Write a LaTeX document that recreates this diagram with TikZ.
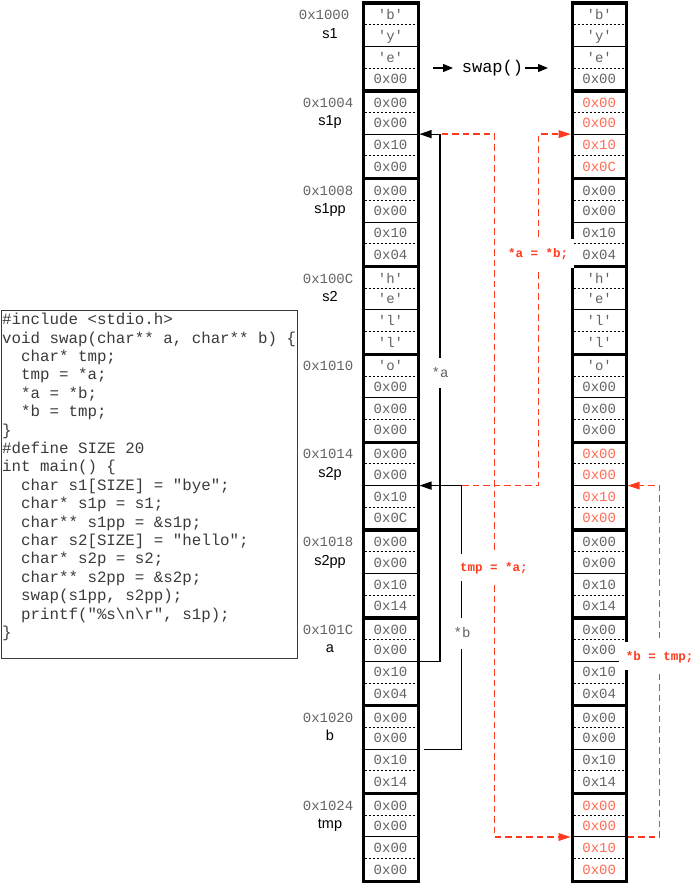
\documentclass[tikz,border=0pt]{standalone}
\usepackage{fontspec}
\setmainfont{Liberation Sans}
\setmonofont{Liberation Mono}
\usetikzlibrary{arrows.meta}
\definecolor{txtgray}{HTML}{626262}
\definecolor{codegray}{HTML}{3A3A3A}
\definecolor{redline}{HTML}{FF3B1F}
\definecolor{redtext}{HTML}{FF6A52}
\tikzset{
  cell/.style={font=\ttfamily\fontsize{14}{14}\selectfont, inner sep=0pt, anchor=base},
  addr/.style={font=\ttfamily\fontsize{14}{14}\selectfont, text=txtgray, inner sep=0pt, anchor=base east},
  varname/.style={font=\fontsize{14.5}{14.5}\selectfont, text=black, inner sep=0pt, anchor=base},
  codeline/.style={font=\ttfamily\fontsize{15.8}{15.8}\selectfont, text=codegray, inner sep=0pt, anchor=base west},
  thickbar/.style={line width=3.3pt},
  colborder/.style={line width=3pt},
  bytesep/.style={dashed, dash pattern=on 2.5pt off 1.5pt, line width=0.8pt},
  pairsep/.style={line width=1pt},
  blkarrow/.style={line width=1.1pt, -{Triangle[length=12pt,width=8pt]}},
  redarrow/.style={line width=1.3pt, draw=redline, dash pattern=on 6.5pt off 4pt, -{Triangle[length=12pt,width=8pt,fill=redline,line width=0pt]}},
  ptrlabel/.style={font=\ttfamily\fontsize{14}{14}\selectfont, text=txtgray, fill=white, inner xsep=2pt, inner ysep=0pt, text height=8pt, text depth=0pt},
  redlabel/.style={font=\ttfamily\bfseries\fontsize{12.5}{12.5}\selectfont, text=redline, fill=white, inner xsep=6pt, inner ysep=0pt, text height=8pt, text depth=0pt}
}
\begin{document}
\begin{tikzpicture}[x=1pt,y=-1pt]
\useasboundingbox (0,0) rectangle (700,884);

% ---------- memory columns ----------
\foreach \xl/\xr in {363/418, 572.2/626.2}{
  \foreach \k in {0,...,9}{
    \pgfmathsetmacro\T{3+87.85*\k}
    \draw[bytesep] (\xl+1.5,\T+21.5) -- (\xr-1.5,\T+21.5);
    \draw[bytesep] (\xl+1.5,\T+65) -- (\xr-1.5,\T+65);
    \draw[pairsep] (\xl+1.5,\T+43.3) -- (\xr-1.5,\T+43.3);
  }
  \foreach \k in {0,...,10}{
    \pgfmathsetmacro\T{3+87.85*\k}
    \draw[thickbar] (\xl-1.5,\T) -- (\xr+1.5,\T);
  }
  \draw[colborder] (\xl,1.35) -- (\xl,883.15);
  \draw[colborder] (\xr,1.35) -- (\xr,883.15);
}

% left column contents
\foreach \k/\a/\b/\c/\d in {0/'b'/'y'/'e'/0x00, 1/0x00/0x00/0x10/0x00, 2/0x00/0x00/0x10/0x04, 3/'h'/'e'/'l'/'l', 4/'o'/0x00/0x00/0x00, 5/0x00/0x00/0x10/0x0C, 6/0x00/0x00/0x10/0x14, 7/0x00/0x00/0x10/0x04, 8/0x00/0x00/0x10/0x14, 9/0x00/0x00/0x00/0x00}{
  \pgfmathsetmacro\T{3+87.85*\k}
  \node[cell, text=txtgray] (L\k-0) at (390.5,\T+12+4.5) {\a};
  \node[cell, text=txtgray] (L\k-1) at (390.5,\T+32.5+4.5) {\b};
  \node[cell, text=txtgray] (L\k-2) at (390.5,\T+54.5+4.5) {\c};
  \node[cell, text=txtgray] (L\k-3) at (390.5,\T+76+4.5) {\d};
}
% right column contents
\foreach \k/\col/\a/\b/\c/\d in {0/txtgray/'b'/'y'/'e'/0x00, 1/redtext/0x00/0x00/0x10/0x0C, 2/txtgray/0x00/0x00/0x10/0x04, 3/txtgray/'h'/'e'/'l'/'l', 4/txtgray/'o'/0x00/0x00/0x00, 5/redtext/0x00/0x00/0x10/0x00, 6/txtgray/0x00/0x00/0x10/0x14, 7/txtgray/0x00/0x00/0x10/0x04, 8/txtgray/0x00/0x00/0x10/0x14, 9/redtext/0x00/0x00/0x10/0x00}{
  \pgfmathsetmacro\T{3+87.85*\k}
  \node[cell, text=\col] (R\k-0) at (599.2,\T+12+4.5) {\a};
  \node[cell, text=\col] (R\k-1) at (599.2,\T+32.5+4.5) {\b};
  \node[cell, text=\col] (R\k-2) at (599.2,\T+54.5+4.5) {\c};
  \node[cell, text=\col] (R\k-3) at (599.2,\T+76+4.5) {\d};
}

% addresses and names
\node[addr] (ad0) at (349.5,3+12+4.5) {0x1000};
\foreach \k/\ad in {1/0x1004, 2/0x1008, 3/0x100C, 4/0x1010, 5/0x1014, 6/0x1018, 7/0x101C, 8/0x1020, 9/0x1024}{
  \pgfmathsetmacro\T{3+87.85*\k}
  \node[addr] (ad\k) at (353.5,\T+12+4.5) {\ad};
}
\foreach \k/\nm in {0/s1, 1/s1p, 2/s1pp, 3/s2, 5/s2p, 6/s2pp, 7/a, 8/b, 9/tmp}{
  \pgfmathsetmacro\T{3+87.85*\k}
  \node[varname] (nm\k) at (330,\T+30+5) {\nm};
}

% swap() header
\node[font=\ttfamily\fontsize{17}{17}\selectfont, inner sep=0pt, text height=9pt, text depth=0pt] (sw) at (492.5,68) {swap()};
\coordinate (swa) at (433,68);
\coordinate (swb) at (453,68);
\coordinate (swc) at (525,68);
\coordinate (swd) at (548,68);
\draw[line width=1.1pt, -{Triangle[length=10pt,width=8pt]}] (swa) -- (swb);
\draw[line width=1.1pt, -{Triangle[length=10pt,width=8pt]}] (swc) -- (swd);

% connector end points
\coordinate (La)    at (419.5,661.3);
\coordinate (Lb)    at (424,749.1);
\coordinate (Ls1p)  at (419.5,134.1);
\coordinate (Ls2p)  at (419.5,485.6);
\coordinate (Ta)    at (441.5,134.1);
\coordinate (Tb)    at (462,485.6);
\coordinate (Rs1p)  at (570.7,134.1);
\coordinate (Rtmpi) at (570.7,837);
\coordinate (Rtmpo) at (627.7,837);
\coordinate (Rs2p)  at (627.7,485.6);

% black pointer arrows
\draw[blkarrow] (La) -- ++(20.5,0) |- (Ls1p);
\draw[blkarrow] (Lb) -- ++(37.5,0) |- (Ls2p);

% red dashed arrows
\draw[redarrow] (Ta) -- ++(53,0) |- (Rtmpi);
\draw[redarrow] (Tb) -- ++(76.5,0) |- (Rs1p);
\draw[redarrow] (Rtmpo) -- ++(32,0) |- (Rs2p);

% labels
\node[ptrlabel, minimum height=30pt] (lba) at (440,373) {*a};
\node[ptrlabel, minimum height=31pt] (lbb) at (462,633) {*b};
\node[redlabel, minimum height=27pt] (lbt) at (494,567.5) {tmp = *a;};
\node[redlabel, minimum height=29pt] (lbab) at (538,253) {*a = *b;};
\node[redlabel, minimum height=28pt, inner xsep=7pt] (lbbt) at (659.5,656) {*b = tmp;};

% code box
\node[draw=codegray, line width=1.3pt, minimum width=296pt, minimum height=348pt, anchor=north west, inner sep=0pt] (code) at (1,310) {};
\node[codeline] (c1)  at (2,324.7+18.4*0)  {\#include <stdio.h>};
\node[codeline] (c2)  at (2,324.7+18.4*1)  {void swap(char** a, char** b) \{};
\node[codeline] (c3)  at (2,324.7+18.4*2)  {\phantom{xx}char* tmp;};
\node[codeline] (c4)  at (2,324.7+18.4*3)  {\phantom{xx}tmp = *a;};
\node[codeline] (c5)  at (2,324.7+18.4*4)  {\phantom{xx}*a = *b;};
\node[codeline] (c6)  at (2,324.7+18.4*5)  {\phantom{xx}*b = tmp;};
\node[codeline] (c7)  at (2,324.7+18.4*6)  {\}};
\node[codeline] (c8)  at (2,324.7+18.4*7)  {\#define SIZE 20};
\node[codeline] (c9)  at (2,324.7+18.4*8)  {int main() \{};
\node[codeline] (c10) at (2,324.7+18.4*9)  {\phantom{xx}char s1[SIZE] = "bye";};
\node[codeline] (c11) at (2,324.7+18.4*10) {\phantom{xx}char* s1p = s1;};
\node[codeline] (c12) at (2,324.7+18.4*11) {\phantom{xx}char** s1pp = \&s1p;};
\node[codeline] (c13) at (2,324.7+18.4*12) {\phantom{xx}char s2[SIZE] = "hello";};
\node[codeline] (c14) at (2,324.7+18.4*13) {\phantom{xx}char* s2p = s2;};
\node[codeline] (c15) at (2,324.7+18.4*14) {\phantom{xx}char** s2pp = \&s2p;};
\node[codeline] (c16) at (2,324.7+18.4*15) {\phantom{xx}swap(s1pp, s2pp);};
\node[codeline] (c17) at (2,324.7+18.4*16) {\phantom{xx}printf("\%s\textbackslash n\textbackslash r", s1p);};
\node[codeline] (c18) at (2,324.7+18.4*17) {\}};
\end{tikzpicture}
\end{document}
